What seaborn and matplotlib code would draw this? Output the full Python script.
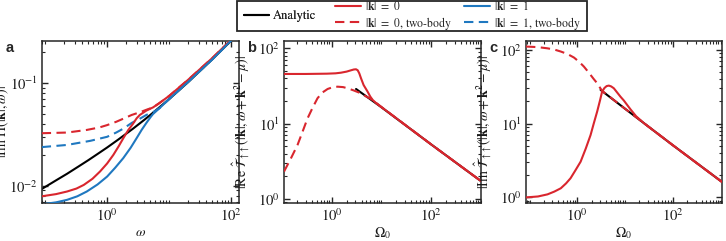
import numpy as np
import pandas as pd
import seaborn as sns
import matplotlib.pyplot as plt
from matplotlib.ticker import FixedLocator, FuncFormatter, NullFormatter
from matplotlib.lines import Line2D
from matplotlib.patches import Rectangle

# ---- panel a: |Im Pi(|k|, w)| ----
a_black_x = [0.088, 0.15, 0.226, 0.35, 0.5, 0.7, 1.0, 1.5, 2.6, 4, 5.5, 10, 20, 50, 104]
a_black_y = [0.0093, 0.0113, 0.0131, 0.0155, 0.0178, 0.0204, 0.0236, 0.0281, 0.0359,
             0.044, 0.0515, 0.0698, 0.1015, 0.171, 0.265]
a_k0_x = [0.088, 0.15, 0.226, 0.32, 0.42, 0.58, 0.77, 1.0, 1.26, 1.55, 1.82, 2.2, 2.6, 3.0,
          3.37, 4.3, 5.5, 7, 10, 20, 50, 104]
a_k0_y = [0.0079, 0.0083, 0.0088, 0.0094, 0.0102, 0.0117, 0.0138, 0.0165, 0.020, 0.0245,
          0.029, 0.035, 0.040, 0.0455, 0.049, 0.054, 0.058, 0.064, 0.075, 0.107, 0.176, 0.27]
a_k0tb_x = [0.088, 0.226, 0.47, 0.75, 1.0, 1.4, 1.82, 2.5, 3.37, 4.3, 5.5, 7, 10, 20, 50, 104]
a_k0tb_y = [0.0325, 0.033, 0.035, 0.037, 0.039, 0.042, 0.045, 0.049, 0.052, 0.055, 0.058,
            0.064, 0.075, 0.107, 0.176, 0.27]
a_k1_x = [0.088, 0.15, 0.226, 0.33, 0.47, 0.7, 1.0, 1.35, 1.82, 2.4, 2.98, 3.6, 4.3, 5.0,
          5.5, 7, 10, 20, 50, 104]
a_k1_y = [0.0066, 0.0069, 0.0073, 0.0079, 0.0088, 0.0103, 0.0123, 0.015, 0.0186, 0.0235,
          0.029, 0.035, 0.041, 0.0465, 0.050, 0.057, 0.070, 0.102, 0.171, 0.266]
a_k1tb_x = [0.088, 0.226, 0.535, 1.0, 1.4, 1.82, 2.5, 3.37, 4.3, 5.5, 7, 10, 20, 50, 104]
a_k1tb_y = [0.0238, 0.025, 0.0274, 0.030, 0.033, 0.036, 0.041, 0.045, 0.049, 0.052, 0.057,
            0.070, 0.102, 0.171, 0.266]

# ---- panel b: |Re T(|k|, w + k^2 - mu)| ----
b_black_x = [3.1, 10, 100, 1014]
b_black_y = [28.8, 16.5, 5.3, 1.72]
b_k0_x = [0.11, 0.3, 0.8, 1.2, 1.54, 2.0, 2.45, 2.8, 3.1, 3.35, 3.6, 3.9, 4.4, 5.3, 6.0, 6.7,
          8, 10, 100, 1014]
b_k0_y = [45.6, 45.6, 46.0, 46.5, 47.4, 49.0, 51.0, 52.3, 52.6, 51.0, 46.5, 40.0, 32.5, 26.5,
          22.8, 20.6, 18.5, 16.6, 5.3, 1.72]
b_k0tb_x = [0.11, 0.15, 0.206, 0.26, 0.327, 0.41, 0.52, 0.65, 0.83, 1.05, 1.32, 1.7, 2.1, 2.8,
            3.9, 5.0, 6.7, 10, 100, 1014]
b_k0tb_y = [2.3, 3.4, 5.2, 7.8, 11.7, 16.0, 21.7, 25.8, 28.8, 30.4, 30.9, 30.5, 29.4, 27.5,
            25.2, 22.8, 20.6, 16.6, 5.3, 1.72]

# ---- panel c: |Im T(|k|, w + k^2 - mu)| ----
c_black_x = [3.06, 10, 100, 1070]
c_black_y = [28.7, 15.9, 5.1, 1.62]
c_k0_x = [0.084, 0.15, 0.237, 0.33, 0.45, 0.58, 0.72, 0.9, 1.17, 1.5, 1.89, 2.2, 2.6, 3.0, 3.3,
          3.7, 4.1, 4.56, 5.1, 5.8, 6.8, 8.0, 9.4, 11, 13, 17, 25, 100, 1070]
c_k0_y = [1.0, 1.03, 1.1, 1.2, 1.33, 1.55, 1.82, 2.3, 3.05, 4.6, 7.0, 10.0, 14.6, 21.0, 27.2,
          30.5, 32.3, 32.8, 32.0, 30.2, 26.5, 23.2, 20.6, 18.0, 15.6, 12.6, 10.1, 5.1, 1.62]
c_k0tb_x = [0.084, 0.15, 0.237, 0.33, 0.45, 0.62, 0.85, 1.1, 1.37, 1.6, 1.89, 2.2, 2.6, 3.0,
            3.3, 10, 100, 1070]
c_k0tb_y = [111, 109, 105, 101, 95, 88, 78.7, 68.5, 59.4, 52.5, 45.8, 40.3, 35.3, 30.5,
            27.8, 15.9, 5.1, 1.62]

RED = "#d9262e"
BLUE = "#1f78c0"
DARK = "#262626"

sns.set_style("ticks")
plt.rcParams.update({
    "font.family": ["STIXGeneral", "DejaVu Serif"],
    "mathtext.fontset": "stix",
    "axes.edgecolor": DARK,
    "axes.labelcolor": "#1a1a1a",
    "axes.linewidth": 1.1,
    "xtick.color": DARK,
    "ytick.color": DARK,
    "xtick.labelcolor": "#1a1a1a",
    "ytick.labelcolor": "#1a1a1a",
})

fig = plt.figure(figsize=(7.26, 2.41), dpi=100)
W, H = 726, 241
def add_axes(x0, x1, top=41, bottom=203):
    return fig.add_axes([x0 / W, 1 - bottom / H, (x1 - x0) / W, (bottom - top) / H])

ax_a = add_axes(42, 239)
ax_b = add_axes(284, 481)
ax_c = add_axes(526, 722)

def line(ax, x, y, color, ls="-", z=2):
    df = pd.DataFrame({"x": x, "y": y})
    sns.lineplot(data=df, x="x", y="y", ax=ax, color=color, lw=1.5,
                 linestyle=ls, estimator=None, sort=False, legend=False, zorder=z)

dash = (0, (4.5, 2.6))

line(ax_a, a_black_x, a_black_y, "black", z=2)
line(ax_a, a_k0tb_x, a_k0tb_y, RED, dash, z=3)
line(ax_a, a_k1tb_x, a_k1tb_y, BLUE, dash, z=3)
line(ax_a, a_k0_x, a_k0_y, RED, z=4)
line(ax_a, a_k1_x, a_k1_y, BLUE, z=5)

line(ax_b, b_black_x, b_black_y, "black", z=2)
line(ax_b, b_k0tb_x, b_k0tb_y, RED, dash, z=3)
line(ax_b, b_k0_x, b_k0_y, RED, z=4)

line(ax_c, c_black_x, c_black_y, "black", z=2)
line(ax_c, c_k0tb_x, c_k0tb_y, RED, dash, z=3)
line(ax_c, c_k0_x, c_k0_y, RED, z=4)

def pow_fmt(v, pos):
    return r"$10^{%d}$" % int(round(np.log10(v)))

def style(ax, xlim, ylim, xmaj, ymaj, xlabel, ylabel, letter):
    ax.set_xscale("log")
    ax.set_yscale("log")
    ax.set_xlim(*xlim)
    ax.set_ylim(*ylim)
    minors = [m * 10.0 ** e for e in range(-3, 5) for m in range(1, 10)]
    ax.xaxis.set_major_locator(FixedLocator(xmaj))
    ax.yaxis.set_major_locator(FixedLocator(ymaj))
    ax.xaxis.set_minor_locator(FixedLocator(minors))
    ax.yaxis.set_minor_locator(FixedLocator(minors))
    ax.xaxis.set_major_formatter(FuncFormatter(pow_fmt))
    ax.yaxis.set_major_formatter(FuncFormatter(pow_fmt))
    ax.xaxis.set_minor_formatter(NullFormatter())
    ax.yaxis.set_minor_formatter(NullFormatter())
    ax.tick_params(which="both", direction="in", top=True, right=True, labelsize=10.5, pad=3)
    ax.tick_params(which="major", length=4, width=1.0)
    ax.tick_params(which="minor", length=2.2, width=0.8)
    for s in ax.spines.values():
        s.set_visible(True)
    ax.set_xlabel(xlabel, fontsize=10, labelpad=1)
    ax.set_ylabel(ylabel, fontsize=10)
    ax.yaxis.set_label_coords(-0.17, 0.5)
    ax.text(-0.165, 1.0, letter, transform=ax.transAxes, ha="center", va="top",
            fontsize=10.5, fontweight="bold", family="Liberation Sans")

style(ax_a, (0.089, 134), (0.0068, 0.257), [1, 100], [0.01, 0.1],
      r"$\omega$", r"$|\mathrm{Im}\ \Pi(|\mathbf{k}|,\omega)|$", "a")
style(ax_b, (0.11, 1014), (0.88, 125), [1, 100], [1, 10, 100],
      r"$\Omega_0$",
      r"$|\mathrm{Re}\ \hat{\mathcal{T}}_{\uparrow\uparrow}(|\mathbf{k}|,\omega+\mathbf{k}^2-\mu)|$", "b")
style(ax_c, (0.084, 1070), (0.84, 132), [1, 100], [1, 10, 100],
      r"$\Omega_0$",
      r"$|\mathrm{Im}\ \hat{\mathcal{T}}_{\uparrow\uparrow}(|\mathbf{k}|,\omega+\mathbf{k}^2-\mu)|$", "c")
ax_a.yaxis.set_label_coords(-0.155, 0.5)

# legend: analytic alone in first column, the four k-curves in a 2x2 block
h_an = [Line2D([], [], color="black", lw=1.5)]
h_k = [Line2D([], [], color=RED, lw=1.5), Line2D([], [], color=RED, lw=1.5, ls=dash),
       Line2D([], [], color=BLUE, lw=1.5), Line2D([], [], color=BLUE, lw=1.5, ls=dash)]
l_k = [r"$|\mathbf{k}|\ =\ 0$", r"$|\mathbf{k}|\ =\ 0$, two-body",
       r"$|\mathbf{k}|\ =\ 1$", r"$|\mathbf{k}|\ =\ 1$, two-body"]
leg1 = fig.legend(h_an, ["Analytic"], loc="center", bbox_to_anchor=(280 / W, 1 - 16 / H),
                  frameon=False, fontsize=9, handlelength=2.0, handletextpad=0.35,
                  borderpad=0, borderaxespad=0)
leg2 = fig.legend(h_k, l_k, loc="center", bbox_to_anchor=(458 / W, 1 - 16 / H), ncol=2,
                  frameon=False, fontsize=8.5, handlelength=2.2, handletextpad=0.35,
                  columnspacing=1.0, labelspacing=0.1, borderpad=0, borderaxespad=0)
fig.add_artist(leg1)
fig.patches.append(Rectangle((237 / W, 1 - 31 / H), (587 - 237) / W, 30.5 / H,
                             transform=fig.transFigure, fill=False, lw=1.3, ec=DARK))

fig.savefig("out.png", dpi=100)
